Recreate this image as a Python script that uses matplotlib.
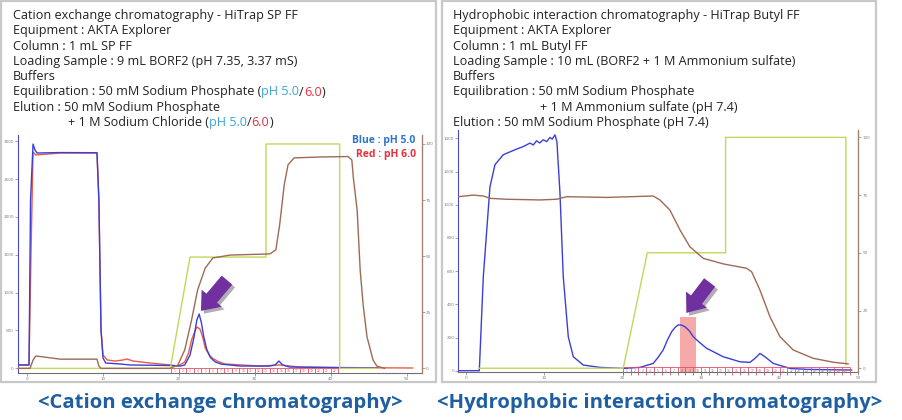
import matplotlib.pyplot as plt
from matplotlib.patches import Rectangle, FancyArrowPatch
import matplotlib.patheffects as pe

W, H = 903, 420

# ---- Cation exchange (HiTrap SP FF) ----
cex_blue_x = [-1.1, 0.3, 0.5, 0.83, 1.09, 1.36, 4.4, 9.25, 9.5, 9.78, 10.04, 10.4, 12.3, 13.6, 18.9, 20.2,
              20.8, 21.5, 22.0, 22.4, 22.7, 23.0, 23.3, 23.7, 24.2, 24.8, 25.6, 28.1, 32.0, 32.7, 33.2, 33.7,
              34.6, 40.0, 46.1]
cex_blue_y = [44, 44, 2220, 2962, 2883, 2844, 2850, 2848, 2220, 506, 136, 70, 57, 44, 37, 30,
              44, 176, 400, 640, 717, 600, 420, 250, 140, 85, 55, 30, 30, 44, 96, 44,
              17, 10, 4]

cex_red_x = [-1.1, 0.3, 0.57, 0.83, 1.2, 4.4, 9.25, 9.5, 9.78, 10.04, 10.6, 11.6, 12.7, 13.2, 14.0, 16.2,
             18.9, 19.9, 20.8, 21.3, 21.7, 22.1, 22.4, 22.8, 23.2, 23.5, 24.0, 24.4, 25.2, 26.1, 30.7,
             33.3, 36.0, 41.2, 50.8]
cex_red_y = [44, 44, 1563, 2857, 2818, 2844, 2844, 2220, 506, 176, 110, 96, 110, 123, 96, 70,
             44, 30, 83, 200, 374, 480, 546, 520, 400, 268, 180, 136, 90, 57, 30,
             44, 17, 10, 4]

cex_cond_x = [-1.1, 0.43, 0.83, 1.2, 2.4, 4.4, 9.25, 9.5, 9.8, 18.9, 19.9, 20.8, 21.7, 22.5, 23.5, 24.5,
              26.8, 32.0, 32.8, 33.3, 33.9, 34.4, 35.2, 38.6, 42.3, 42.8, 43.0, 43.5, 43.9, 44.3, 44.8,
              45.6, 46.1, 47.1]
cex_cond_y = [0, 0, 3.7, 5.5, 5.0, 4.1, 4.1, 1.0, 0, 0, 1.5, 8.2, 21.5, 35.0, 44.7, 49.2,
              50.5, 51.0, 52.8, 64.0, 81.8, 90.7, 93.8, 94.2, 94.4, 92.9, 85.0, 70.6, 43.8, 28.0, 14.0,
              3.7, 1.0, 0]

cex_conc_x = [-1.1, 18.9, 21.5, 31.5, 31.5, 41.2, 41.2, 46.1]
cex_conc_y = [0, 0, 49.6, 49.6, 100, 100, 0, 0]

cex_fractions = [19, 20, 21, 22, 23, 24, 25, 26, 27, 28, 29, 30, 31, 32, 33, 34, 35, 36, 37, 38, 39, 40, 41]

# ---- Hydrophobic interaction (HiTrap Butyl FF) ----
hic_uv_x = [-0.98, 1.70, 2.21, 3.06, 3.70, 4.76, 5.6, 6.47, 7.3, 8.16, 8.6, 9.0, 9.4, 9.86, 10.3, 10.7,
            11.0, 11.35, 11.6, 11.99, 12.41, 13.05, 13.69, 14.97, 17.09, 20.06, 22.19, 23.89, 24.5, 25.16,
            25.7, 26.24, 26.7, 27.08, 27.5, 27.93, 28.5, 28.99, 29.8, 30.70, 32.82, 34.95, 36.22, 36.86,
            37.50, 38.14, 39.20, 41.33, 43.46, 49.20]
hic_uv_y = [0, 0, 566, 1108, 1241, 1301, 1318, 1335, 1350, 1371, 1360, 1385, 1372, 1391, 1380, 1405,
            1395, 1421, 1380, 1071, 566, 205, 84, 34, 20, 14, 20, 44, 80, 125,
            185, 235, 262, 276, 275, 265, 240, 205, 170, 135, 84, 54, 50, 74,
            104, 84, 44, 14, 8, 4]

hic_cond_x = [-0.98, 0.93, 2.21, 3.06, 5.19, 9.44, 11.57, 12.84, 17.95, 23.89, 24.74, 26.02, 27.30, 28.57,
              30.27, 32.82, 35.80, 36.44, 37.50, 38.78, 40.05, 41.75, 44.30, 46.85, 48.76]
hic_cond_y = [74.3, 75.0, 74.6, 73.6, 73.2, 72.9, 73.2, 74.3, 74.0, 74.6, 72.9, 68.5, 59.9, 52.6,
              47.6, 45.2, 43.3, 41.8, 33.9, 22.3, 13.7, 7.9, 4.3, 2.6, 1.9]

hic_conc_x = [1.7, 20.06, 23.13, 33.12, 33.12, 48.47, 48.47]
hic_conc_y = [0, 0, 50, 50, 100, 100, 1.5]

hic_fractions = [20, 21, 22, 23, 24, 25, 26, 27, 28, 29, 30, 31, 32, 33, 34, 35, 36, 37, 38, 39, 40,
                 41, 42, 43, 44, 45, 46, 47, 48, 49]
hic_pool = (27.3, 29.34, 325)

x_ticks = [0, 10, 20, 30, 40, 50]
cex_uv_ticks = [0, 500, 1000, 1500, 2000, 2500, 3000]
hic_uv_ticks = [0, 200, 400, 600, 800, 1000, 1200, 1400]
pct_ticks = [0, 25, 50, 75, 100]

BLUE = '#3a3fd8'
RED = '#ee5a45'
BROWN = '#9c6b55'
GREEN = '#c5d65a'
FRAC = '#e0506a'
PURPLE = '#7030a0'
TXT_FONT = ['Open Sans', 'DejaVu Sans']


def px_axes(l, t, r, b):
    return fig.add_axes([l / W, 1 - b / H, (r - l) / W, (b - t) / H])


def setup(ax, ax2, xlim, ylim, y2lim, yticks):
    ax.set_xlim(xlim)
    ax.set_ylim(ylim)
    ax2.set_ylim(y2lim)
    ax.set_xticks(x_ticks)
    ax.set_yticks(yticks)
    ax2.set_yticks(pct_ticks)
    for a in (ax, ax2):
        a.patch.set_alpha(0)
        a.spines['top'].set_visible(False)
        a.tick_params(labelsize=3, colors='#808080', length=2, width=0.5, pad=1)
    ax.spines['left'].set_color('#4a4ac0')
    ax.spines['bottom'].set_color('#707070')
    ax2.spines['right'].set_color('#a08070')
    ax2.spines['left'].set_visible(False)
    ax2.spines['bottom'].set_visible(False)


def fraction_marks(ax, edges, y0, y1):
    ax.vlines(edges, y0, y1, color=FRAC, lw=0.6, clip_on=False)
    ax.hlines([y1], edges[0], edges[-1], color=FRAC, lw=0.6, clip_on=False)
    for a, b in zip(edges[:-1], edges[1:]):
        ax.text((a + b) / 2, (y0 + y1) / 2, str(a - edges[0] + 1), fontsize=2.2, color=FRAC,
                ha='center', va='center', clip_on=False)


def arrow(ax, tail, tip):
    ar = FancyArrowPatch(tail, tip, arrowstyle='simple,head_width=19,head_length=12,tail_width=10',
                         mutation_scale=1, color=PURPLE, lw=0,
                         path_effects=[pe.SimplePatchShadow(offset=(2, -2), alpha=0.35), pe.Normal()])
    ax.add_patch(ar)


fig = plt.figure(figsize=(W / 100, H / 100), dpi=100)

# panel frames
for l, r in [(1, 436), (442, 876)]:
    fig.patches.append(Rectangle((l / W, 1 - 382 / H), (r - l) / W, 381 / H, transform=fig.transFigure,
                                 fill=False, ec='#c8c8c8', lw=1.6))

# ---- panel 1 ----
ax1 = px_axes(18, 135, 421.7, 373.3)
ax1b = ax1.twinx()
setup(ax1, ax1b, (-1.15, 52), (-66, 3082), (-2.2, 104), cex_uv_ticks)
ax1b.plot(cex_conc_x, cex_conc_y, color=GREEN, lw=1)
ax1b.plot(cex_cond_x, cex_cond_y, color=BROWN, lw=1)
ax1.plot(cex_red_x, cex_red_y, color=RED, lw=1)
ax1.plot(cex_blue_x, cex_blue_y, color=BLUE, lw=1)
fraction_marks(ax1, cex_fractions, -66, 0)
arrow(ax1, (26.6, 1193), (22.7, 730))
ax1.text(0.985, 0.975, 'Blue : pH 5.0', transform=ax1.transAxes, ha='right', va='center',
         color='#2e75c8', fontsize=7.5, fontweight='bold', family=TXT_FONT)
ax1.text(0.985, 0.92, 'Red : pH 6.0', transform=ax1.transAxes, ha='right', va='center',
         color='#e8303a', fontsize=7.5, fontweight='bold', family=TXT_FONT)

# ---- panel 2 ----
ax2 = px_axes(458.3, 130, 858.3, 371.7)
ax2b = ax2.twinx()
setup(ax2, ax2b, (-0.98, 50.05), (-6, 1450), (-1.5, 103.2), hic_uv_ticks)
ax2.add_patch(Rectangle((hic_pool[0], -6), hic_pool[1] - hic_pool[0], hic_pool[2] + 6,
                        color='#f4a0a0', alpha=0.9, lw=0))
ax2b.plot(hic_conc_x, hic_conc_y, color=GREEN, lw=1)
ax2b.plot(hic_cond_x, hic_cond_y, color=BROWN, lw=1)
ax2.plot(hic_uv_x, hic_uv_y, color=BLUE, lw=1)
fraction_marks(ax2, hic_fractions, -25, 20)
arrow(ax2, (31.3, 545), (27.9, 335))

# ---- header texts ----
renderer = fig.canvas.get_renderer()
BLK, CY, RD = '#222222', '#3aa6d6', '#e0303c'


def text_line(x, y, pieces):
    for s, c in pieces:
        t = fig.text(x / W, 1 - y / H, s, color=c, fontsize=9.1, ha='left', va='center', family=TXT_FONT)
        x += t.get_window_extent(renderer).width


left_lines = [
    (13, [('Cation exchange chromatography - HiTrap SP FF', BLK)]),
    (13, [('Equipment : AKTA Explorer', BLK)]),
    (13, [('Column : 1 mL SP FF', BLK)]),
    (13, [('Loading Sample : 9 mL BORF2 (pH 7.35, 3.37 mS)', BLK)]),
    (13, [('Buffers', BLK)]),
    (13, [('Equilibration : 50 mM Sodium Phosphate (', BLK), ('pH 5.0', CY), ('/', BLK), ('6.0', RD),
          (')', BLK)]),
    (13, [('Elution : 50 mM Sodium Phosphate', BLK)]),
    (68, [('+ 1 M Sodium Chloride (', BLK), ('pH 5.0', CY), ('/', BLK), ('6.0', RD), (')', BLK)]),
]
right_lines = [
    (453, [('Hydrophobic interaction chromatography - HiTrap Butyl FF', BLK)]),
    (453, [('Equipment : AKTA Explorer', BLK)]),
    (453, [('Column : 1 mL Butyl FF', BLK)]),
    (453, [('Loading Sample : 10 mL (BORF2 + 1 M Ammonium sulfate)', BLK)]),
    (453, [('Buffers', BLK)]),
    (453, [('Equilibration : 50 mM Sodium Phosphate', BLK)]),
    (540, [('+ 1 M Ammonium sulfate (pH 7.4)', BLK)]),
    (453, [('Elution : 50 mM Sodium Phosphate (pH 7.4)', BLK)]),
]
for i, (x0, pieces) in enumerate(left_lines):
    text_line(x0, 15.5 + 15.3 * i, pieces)
for i, (x0, pieces) in enumerate(right_lines):
    text_line(x0, 15.5 + 15.3 * i, pieces)

# ---- captions ----
fig.text(220 / W, 1 - 403 / H, '<Cation exchange chromatography>', ha='center', va='center',
         color='#1f5f9f', fontsize=14.6, fontweight='bold', family=TXT_FONT)
fig.text(659.5 / W, 1 - 403 / H, '<Hydrophobic interaction chromatography>', ha='center', va='center',
         color='#1f5f9f', fontsize=14.6, fontweight='bold', family=TXT_FONT)

fig.savefig('out.png', dpi=100)
